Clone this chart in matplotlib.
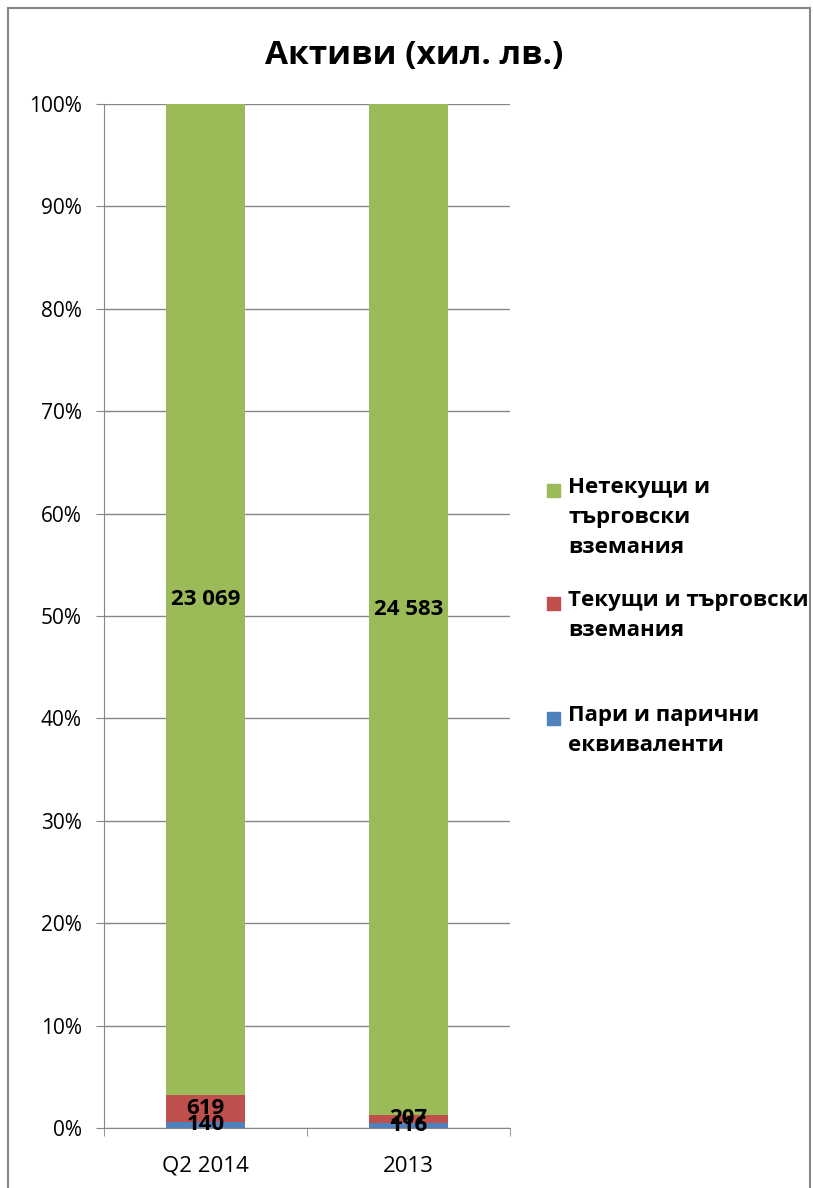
import matplotlib.pyplot as plt
from matplotlib.patches import Rectangle
import numpy as np

plt.rcParams['font.family'] = ['Open Sans', 'DejaVu Sans']

categories = ["Q2 2014", "2013"]
series_names = ["Пари и парични\nеквиваленти",
                "Текущи и търговски\nвземания",
                "Нетекущи и\nтърговски\nвземания"]
cash = [140, 116]
current = [619, 207]
noncurrent = [23069, 24583]
colors = ["#4F81BD", "#C0504D", "#9BBB59"]

values = np.array([cash, current, noncurrent], dtype=float)
totals = values.sum(axis=0)
shares = values / totals * 100

fig = plt.figure(figsize=(8.13, 11.88), dpi=100)
ax = fig.add_axes([0.128, 0.0505, 0.499, 0.862])

x = np.arange(len(categories))
bottom = np.zeros(len(categories))
for i in range(3):
    ax.bar(x, shares[i], 0.39, bottom=bottom, color=colors[i], zorder=2)
    for j in range(len(categories)):
        lbl = f"{int(values[i, j]):,}".replace(",", " ")
        ax.text(x[j], bottom[j] + shares[i, j] / 2, lbl, ha='center', va='center',
                fontsize=16, fontweight='bold', color='black', zorder=3)
    bottom += shares[i]

ax.set_xlim(-0.5, 1.5)
ax.set_ylim(0, 100)
ax.set_yticks(np.arange(0, 101, 10))
ax.set_yticklabels([f"{v}%" for v in range(0, 101, 10)], fontsize=15)
ax.set_xticks([-0.5, 0.5, 1.5], minor=True)
ax.set_xticks(x)
ax.set_xticklabels(categories, fontsize=16)
ax.tick_params(axis='x', which='major', length=0, pad=20)
ax.tick_params(axis='x', which='minor', length=6, color='#868686')
ax.tick_params(axis='y', length=6, color='#868686', pad=10)
ax.grid(axis='y', color='#868686', linewidth=1, zorder=0)
for s in ['top', 'right']:
    ax.spines[s].set_visible(False)
for s in ['left', 'bottom']:
    ax.spines[s].set_color('#868686')

fig.text(0.51, 0.953, "Активи (хил. лв.)", ha='center', va='center',
         fontsize=24, fontweight='bold')

# legend drawn by hand (uneven spacing in original), top to bottom: green, red, blue
text_top = {2: 477, 1: 590, 0: 705}
box_top = {2: 484, 1: 597, 0: 712}
for i in [2, 1, 0]:
    fig.add_artist(Rectangle((547 / 813, 1 - (box_top[i] + 13) / 1188), 13 / 813, 13 / 1188,
                             transform=fig.transFigure, color=colors[i]))
    fig.text(568 / 813, 1 - text_top[i] / 1188, series_names[i], ha='left', va='top',
             fontsize=16, fontweight='bold', linespacing=1.55)

fig.add_artist(Rectangle((8 / 813, -0.01), 802 / 813, 1 - 8 / 1188 + 0.01,
                         transform=fig.transFigure, fill=False, edgecolor='#868686', linewidth=1.5))

fig.savefig("out.png", dpi=100)
